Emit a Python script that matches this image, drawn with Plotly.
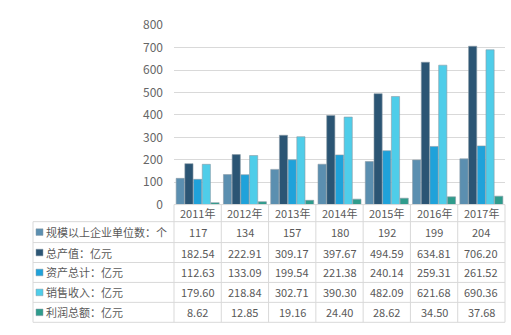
import plotly.graph_objects as go

years = ["2011年", "2012年", "2013年", "2014年", "2015年", "2016年", "2017年"]
series_names = ["规模以上企业单位数：个", "总产值：亿元", "资产总计：亿元", "销售收入：亿元", "利润总额：亿元"]
units_count = [117, 134, 157, 180, 192, 199, 204]
output_value = [182.54, 222.91, 309.17, 397.67, 494.59, 634.81, 706.20]
total_assets = [112.63, 133.09, 199.54, 221.38, 240.14, 259.31, 261.52]
sales_revenue = [179.60, 218.84, 302.71, 390.30, 482.09, 621.68, 690.36]
total_profit = [8.62, 12.85, 19.16, 24.40, 28.62, 34.50, 37.68]
y_ticks = [0, 100, 200, 300, 400, 500, 600, 700, 800]

series_values = [units_count, output_value, total_assets, sales_revenue, total_profit]
value_labels = [
    [str(v) for v in units_count],
    [f"{v:.2f}" for v in output_value],
    [f"{v:.2f}" for v in total_assets],
    [f"{v:.2f}" for v in sales_revenue],
    [f"{v:.2f}" for v in total_profit],
]
colors = ["#5b8fb0", "#2b5574", "#1fa2da", "#4fcde9", "#2e9c8c"]

W, H = 511, 335
def px(x):
    return x / W
def py(y):
    return (H - y) / H

fig = go.Figure()
for name, vals, c in zip(series_names, series_values, colors):
    fig.add_trace(go.Bar(x=years, y=vals, name=name, marker=dict(color=c, line=dict(color="#8a9aa6", width=0.6)),
                         showlegend=False))

x0, x1 = 174, 505
y_top, y_zero = 16, 205
grid = "#d9d9d9"
fig.update_layout(
    width=W, height=H, margin=dict(l=0, r=0, t=0, b=0),
    paper_bgcolor="white", plot_bgcolor="white",
    barmode="group", bargap=0.08, bargroupgap=0.06,
    xaxis=dict(domain=[px(x0), px(x1)], showticklabels=False, showgrid=False, zeroline=False,
               showline=False, fixedrange=True),
    yaxis=dict(domain=[py(y_zero), py(y_top)], range=[0, 800], tickvals=y_ticks, showgrid=True,
               gridcolor=grid, gridwidth=1.3, zeroline=False, showline=False,
               tickfont=dict(family="Noto Sans CJK SC", size=12, color="#666666"),
               ticklabelstandoff=10),
    font=dict(family="Noto Sans CJK SC"),
)

shapes = []
row_edges = [223, 245, 266, 287, 308, 329]
col_w = (x1 - x0) / len(years)
line = dict(color=grid, width=1)
shapes.append(dict(type="line", xref="paper", yref="paper", x0=px(x0), x1=px(x1), y0=py(y_zero), y1=py(y_zero), line=line))
for ry in row_edges:
    shapes.append(dict(type="line", xref="paper", yref="paper", x0=px(33), x1=px(x1), y0=py(ry), y1=py(ry), line=line))
for i in range(len(years) + 1):
    xx = x0 + i * col_w
    shapes.append(dict(type="line", xref="paper", yref="paper", x0=px(xx), x1=px(xx), y0=py(y_zero), y1=py(row_edges[-1]), line=line))
shapes.append(dict(type="line", xref="paper", yref="paper", x0=px(33), x1=px(33), y0=py(row_edges[0]), y1=py(row_edges[-1]), line=line))

annotations = []
tf = dict(family="Noto Sans CJK SC", size=11, color="#595959")
for yr in years:
    annotations.append(dict(x=yr, xref="x", y=py((y_zero + row_edges[0]) / 2), yref="paper", text=yr,
                            showarrow=False, font=tf, xanchor="center", yanchor="middle"))
for r, (name, labels, c) in enumerate(zip(series_names, value_labels, colors)):
    cy = (row_edges[r] + row_edges[r + 1]) / 2
    shapes.append(dict(type="rect", xref="paper", yref="paper", x0=px(36), x1=px(43), y0=py(cy + 3.5), y1=py(cy - 3.5),
                       fillcolor=c, line=dict(color="#8a9aa6", width=0.5)))
    annotations.append(dict(x=px(44), xref="paper", y=py(cy), yref="paper", text=name, showarrow=False,
                            font=tf, xanchor="left", yanchor="middle"))
    for yr, lab in zip(years, labels):
        annotations.append(dict(x=yr, xref="x", y=py(cy), yref="paper", text=lab, showarrow=False,
                                font=tf, xanchor="center", yanchor="middle"))

fig.update_layout(shapes=shapes, annotations=annotations)
fig.write_html("out.html")
